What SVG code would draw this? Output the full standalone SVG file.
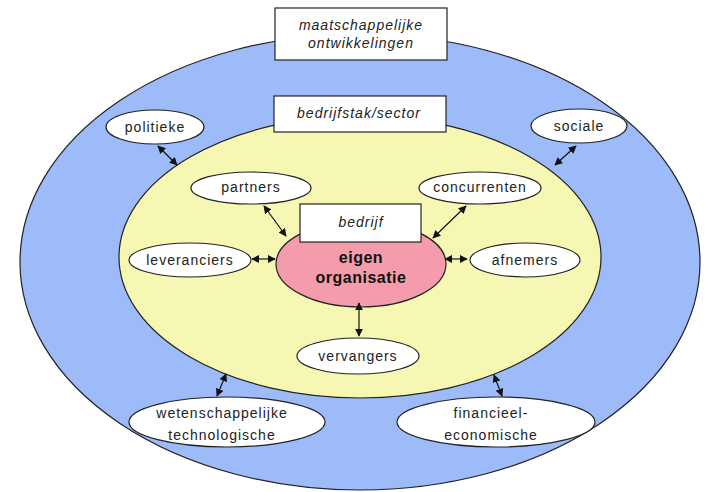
<svg xmlns="http://www.w3.org/2000/svg" width="708" height="492" viewBox="0 0 708 492">
<style>
.sh{stroke:#222;stroke-width:1.2}
.node{fill:#fff;stroke:#222;stroke-width:1.2}
.t{font-family:"Liberation Sans",Arial,sans-serif;font-size:14px;letter-spacing:1px;fill:#222;text-anchor:middle}
.i{font-style:italic}
.b{font-weight:bold;font-size:16px;letter-spacing:0.5px;fill:#111}
.c{stroke:#111;stroke-width:1.2;fill:none;marker-start:url(#ah);marker-end:url(#ah)}
</style>
<defs>
<marker id="ah" viewBox="0 0 10 10" refX="9" refY="5" markerWidth="8" markerHeight="8" markerUnits="userSpaceOnUse" orient="auto-start-reverse">
<path d="M0,0 L10,5 L0,10 z" fill="#111"/>
</marker>
</defs>
<rect width="708" height="492" fill="#fff"/>
<g id="maatschappij">
<ellipse cx="360" cy="262" rx="340" ry="228" fill="#9dbbf9" class="sh"/>
</g>
<g id="sector">
<ellipse cx="360" cy="257" rx="241" ry="141" fill="#f7f7b4" class="sh"/>
</g>
<g id="organisatie">
<ellipse cx="361" cy="264" rx="85" ry="43" fill="#f49cab" class="sh"/>
<text class="t b" x="361" y="263">eigen</text>
<text class="t b" x="361" y="283">organisatie</text>
</g>
<g id="label-maatschappij">
<rect x="275" y="8" width="172" height="52" class="node"/>
<text class="t i" x="361" y="30">maatschappelijke</text>
<text class="t i" x="361" y="48">ontwikkelingen</text>
</g>
<g id="label-sector">
<rect x="274" y="96" width="172" height="36" class="node"/>
<text class="t i" x="359" y="118">bedrijfstak/sector</text>
</g>
<g id="label-bedrijf">
<rect x="300" y="204" width="121" height="38" class="node"/>
<text class="t i" x="361" y="227">bedrijf</text>
</g>
<g id="politieke">
<ellipse cx="155" cy="127" rx="49" ry="17" class="node"/>
<text class="t" x="155" y="132">politieke</text>
</g>
<g id="sociale">
<ellipse cx="579" cy="126" rx="48" ry="17" class="node"/>
<text class="t" x="579" y="131">sociale</text>
</g>
<g id="partners">
<ellipse cx="251" cy="188" rx="60" ry="16" class="node"/>
<text class="t" x="251" y="192">partners</text>
</g>
<g id="concurrenten">
<ellipse cx="480" cy="188" rx="61" ry="16" class="node"/>
<text class="t" x="480" y="192">concurrenten</text>
</g>
<g id="leveranciers">
<ellipse cx="190" cy="260" rx="61" ry="17" class="node"/>
<text class="t" x="190" y="265">leveranciers</text>
</g>
<g id="afnemers">
<ellipse cx="525" cy="260" rx="55" ry="17" class="node"/>
<text class="t" x="525" y="265">afnemers</text>
</g>
<g id="vervangers">
<ellipse cx="358" cy="356" rx="61" ry="18" class="node"/>
<text class="t" x="358" y="361">vervangers</text>
</g>
<g id="wetenschappelijke">
<ellipse cx="227" cy="422" rx="98" ry="25" class="node"/>
<text class="t" x="222" y="418">wetenschappelijke</text>
<text class="t" x="222" y="440">technologische</text>
</g>
<g id="financieel">
<ellipse cx="496" cy="422" rx="99" ry="25" class="node"/>
<text class="t" x="491" y="418">financieel-</text>
<text class="t" x="491" y="440">economische</text>
</g>
<g id="connectors">
<line class="c" x1="158" y1="146" x2="177" y2="165"/>
<line class="c" x1="576" y1="146" x2="555" y2="165"/>
<line class="c" x1="264" y1="206" x2="286" y2="236"/>
<line class="c" x1="466" y1="206" x2="433" y2="238"/>
<line class="c" x1="252" y1="259" x2="275" y2="259"/>
<line class="c" x1="445" y1="259" x2="467" y2="259"/>
<line class="c" x1="359" y1="303" x2="359" y2="336"/>
<line class="c" x1="226" y1="374" x2="217" y2="396"/>
<line class="c" x1="494" y1="375" x2="502" y2="396"/>
</g>
</svg>
